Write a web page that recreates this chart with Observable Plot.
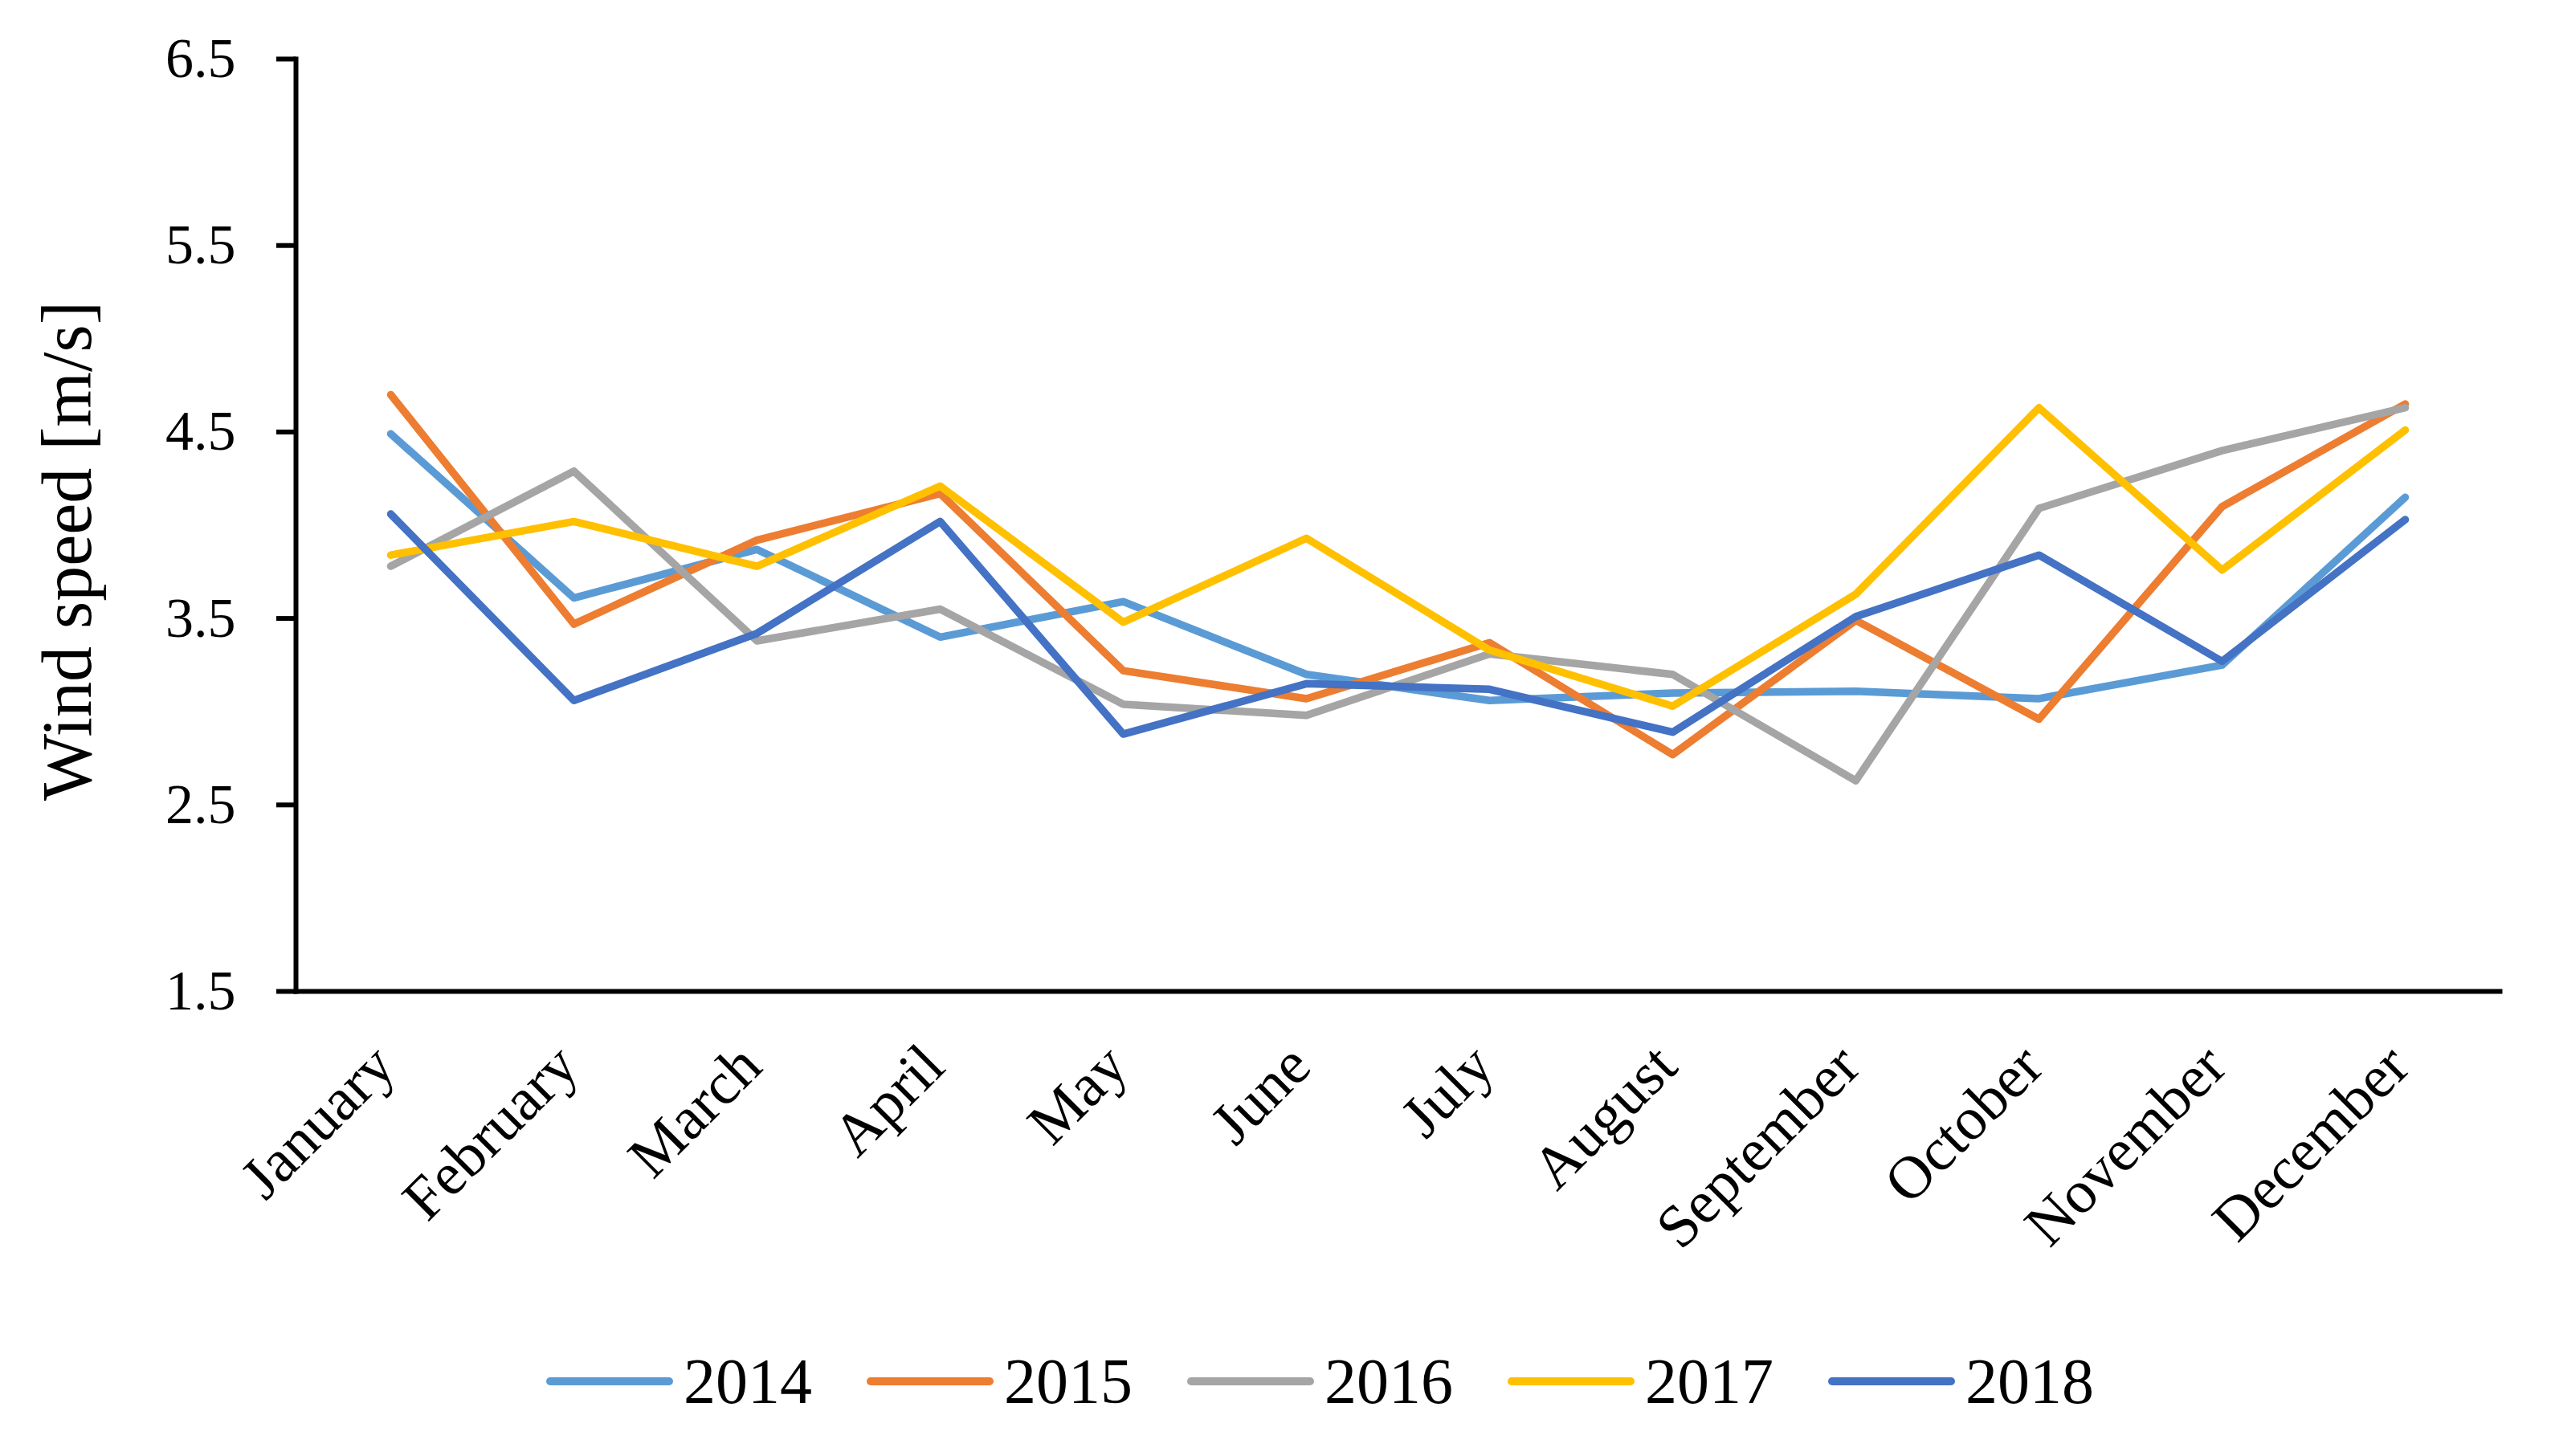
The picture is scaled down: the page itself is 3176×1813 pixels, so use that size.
<!DOCTYPE html>
<html>
<head>
<meta charset="utf-8">
<script src="https://cdn.jsdelivr.net/npm/d3@7"></script>
<script src="https://cdn.jsdelivr.net/npm/@observablehq/plot@0.6"></script>
<style>
  html, body { margin: 0; padding: 0; background: #ffffff; overflow: hidden; }
  #wrap { position: relative; width: 3176px; height: 1813px; }
  #chart { position: absolute; left: 0; top: 0; }
  #legend { position: absolute; left: 0; top: 1670px; height: 100px; width: 3176px; }
  .entry { position: absolute; top: 0; height: 100px; display: flex; align-items: center; }
  .entry span { font-family: "Liberation Serif", serif; font-size: 80px; line-height: 1; color: #000; margin-left: 13px; }
</style>
</head>
<body>
<div id="wrap">
  <div id="chart"></div>
  <div id="legend"></div>
</div>
<script>
const months = ["January", "February", "March", "April", "May", "June", "July", "August", "September", "October", "November", "December"];
const years = ["2014", "2015", "2016", "2017", "2018"];
const colors = ["#5B9BD5", "#ED7D31", "#A5A5A5", "#FFC000", "#4472C4"];
const yTicks = [1.5, 2.5, 3.5, 4.5, 5.5, 6.5];
const yLabel = "Wind speed [m/s]";

const y2014 = [4.49, 3.61, 3.87, 3.40, 3.59, 3.20, 3.06, 3.10, 3.11, 3.07, 3.25, 4.15];
const y2015 = [4.70, 3.47, 3.92, 4.17, 3.22, 3.07, 3.37, 2.77, 3.49, 2.96, 4.10, 4.65];
const y2016 = [3.78, 4.29, 3.38, 3.55, 3.04, 2.98, 3.31, 3.20, 2.63, 4.09, 4.40, 4.63];
const y2017 = [3.84, 4.02, 3.78, 4.21, 3.48, 3.93, 3.33, 3.03, 3.63, 4.63, 3.76, 4.51];
const y2018 = [4.06, 3.06, 3.42, 4.02, 2.88, 3.15, 3.12, 2.89, 3.51, 3.84, 3.27, 4.03];

const seriesValues = [y2014, y2015, y2016, y2017, y2018];
const data = years.flatMap((yr, k) => months.map((m, i) => ({year: yr, month: m, value: seriesValues[k][i]})));

const chart = Plot.plot({
  width: 3176,
  height: 1640,
  marginLeft: 368,
  marginRight: 64,
  marginTop: 73,
  marginBottom: 406,
  style: {fontFamily: "'Liberation Serif', serif", fontSize: "70px", color: "#000", background: "#fff"},
  x: {type: "point", domain: months, padding: 0.5},
  y: {domain: [1.5, 6.5]},
  color: {domain: years, range: colors},
  marks: [
    Plot.axisY({ticks: yTicks, tickFormat: d => d.toFixed(1), tickSize: 24, tickPadding: 51, strokeWidth: 6, fontSize: 70, label: null}),
    Plot.axisX({tickRotate: -45, tickSize: 0, tickPadding: 80, dx: -8, fontSize: 75, label: null}),
    Plot.frame({anchor: "left", strokeWidth: 6}),
    Plot.frame({anchor: "bottom", strokeWidth: 6}),
    Plot.lineY(data, {x: "month", y: "value", stroke: "year", z: "year", strokeWidth: 9.5, strokeLinejoin: "round", strokeLinecap: "round"}),
    Plot.text([yLabel], {frameAnchor: "left", rotate: -90, dx: -284, dy: 32, fontSize: 88, lineAnchor: "middle", textAnchor: "middle"})
  ]
});
document.getElementById("chart").append(chart);

const legend = document.getElementById("legend");
years.forEach((yr, i) => {
  const e = document.createElement("div");
  e.className = "entry";
  e.style.left = (680 + i * 399) + "px";
  e.innerHTML = `<svg width="158" height="20"><line x1="5" y1="10" x2="153" y2="10" stroke="${colors[i]}" stroke-width="10" stroke-linecap="round"/></svg><span>${yr}</span>`;
  legend.append(e);
});
</script>
</body>
</html>
